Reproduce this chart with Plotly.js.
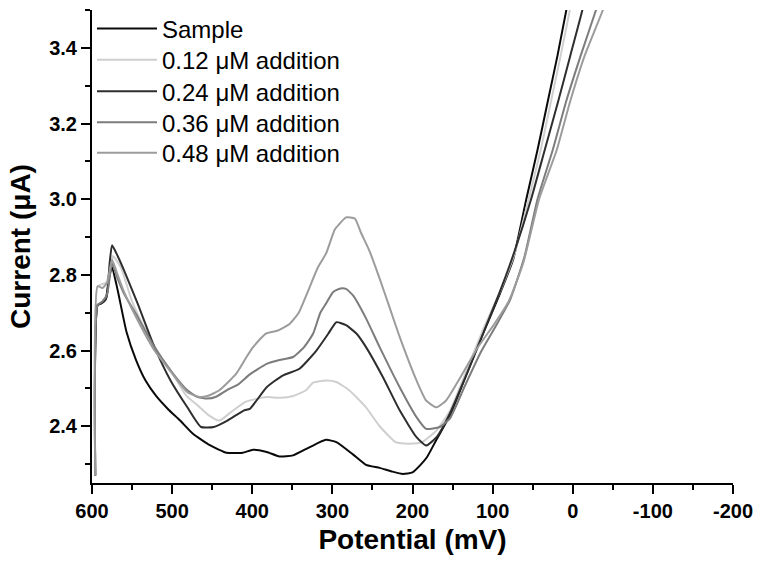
<!DOCTYPE html>
<html>
<head>
<meta charset="utf-8">
<script src="https://cdn.plot.ly/plotly-3.0.1.min.js"></script>
<style>html,body{margin:0;padding:0;background:#fff;}#chart{width:762px;height:564px;}</style>
</head>
<body>
<div id="chart"></div>
<script>
// Series names
const seriesNames = ["Sample", "0.12 \u03bcM addition", "0.24 \u03bcM addition", "0.36 \u03bcM addition", "0.48 \u03bcM addition"];

// X tick labels (hyphen minus as in the original)
const xTickVals = [600, 500, 400, 300, 200, 100, 0, -100, -200];
const xTickLabels = ["600", "500", "400", "300", "200", "100", "0", "-100", "-200"];

// Sample
const sampleX = [596,593,588,583,578,575,568,557,545,533,520,505,490,474,453,432,412,399,382,366,349,328,308,295,274,258,241,225,212,200,190,182,170,153,133,112,91,74.5,58,44,31,19,8,0];
const sampleY = [2.27,2.72,2.725,2.735,2.80,2.82,2.76,2.65,2.575,2.52,2.48,2.445,2.415,2.38,2.35,2.33,2.33,2.338,2.332,2.32,2.323,2.345,2.364,2.358,2.325,2.298,2.29,2.28,2.274,2.278,2.298,2.318,2.365,2.43,2.535,2.645,2.75,2.84,3.0,3.13,3.26,3.38,3.5,3.58];

// 0.12 uM
const add012X = [596,593,588,582,576,574,564,550,531,516,502,482,468,455,441,425,408,395,382,365,349,333,324,308,295,279,258,241,221,204,188,170,153,132,112,90,72,55,40,27,15,3.6,-5];
const add012Y = [2.27,2.77,2.775,2.78,2.83,2.85,2.82,2.73,2.645,2.59,2.548,2.48,2.455,2.43,2.415,2.44,2.465,2.472,2.477,2.475,2.48,2.495,2.515,2.521,2.517,2.495,2.45,2.40,2.358,2.354,2.358,2.389,2.442,2.55,2.655,2.76,2.86,3.0,3.13,3.26,3.38,3.5,3.58];

// 0.24 uM
const add024X = [596,593,588,582,578,575,568,560,543,522,502,481,464,448,431,410,403,382,362,341,320,305,295,283,270,258,237,216,195,183,170,153.5,132,112,92,73,52,35,18,3,-12,-20];
const add024Y = [2.27,2.72,2.725,2.74,2.83,2.878,2.85,2.812,2.724,2.609,2.521,2.45,2.398,2.398,2.415,2.442,2.446,2.503,2.534,2.552,2.6,2.645,2.675,2.667,2.645,2.609,2.53,2.442,2.371,2.349,2.371,2.433,2.54,2.645,2.75,2.86,3.0,3.13,3.26,3.38,3.5,3.58];

// 0.36 uM
const add036X = [596,593,587,581,575,568,560,543,522,502,481,468,456,445,432,418,403,382,366,349,335,324,315,308,299,290,283,274,258,241,216,195,183,166,153.5,135,115,96,78,60,44,25,8,-10,-29,-38];
const add036Y = [2.27,2.72,2.73,2.75,2.83,2.79,2.75,2.689,2.609,2.548,2.495,2.477,2.473,2.478,2.495,2.51,2.537,2.565,2.575,2.583,2.61,2.645,2.70,2.724,2.755,2.764,2.763,2.745,2.685,2.609,2.503,2.424,2.393,2.398,2.42,2.505,2.595,2.665,2.735,2.85,3.0,3.13,3.26,3.38,3.5,3.56];

// 0.48 uM
const add048X = [596,593,587,581,575,568,560,543,522,502,481,467,456,441,420,408,399,383,368,353,342,330,318,308,297,291,283,272,264,254,241,228,216,195,183,170,158,140,118,98,80,62,42,20,3,-15,-37.6,-45];
const add048Y = [2.27,2.77,2.765,2.78,2.84,2.80,2.755,2.68,2.6,2.545,2.49,2.478,2.48,2.495,2.539,2.58,2.609,2.645,2.653,2.671,2.70,2.759,2.82,2.856,2.92,2.935,2.952,2.949,2.91,2.865,2.79,2.71,2.636,2.521,2.468,2.45,2.468,2.53,2.61,2.67,2.73,2.83,3.0,3.13,3.26,3.38,3.5,3.55];

const xs = [sampleX, add012X, add024X, add036X, add048X];
const ys = [sampleY, add012Y, add024Y, add036Y, add048Y];
const colors = ["#0a0a0a", "#cfcfcf", "#2e2e2e", "#7c7c7c", "#9c9c9c"];

// legend row vertical positions (paper coords), one legend per row
const legendRowY = [0.9598, 0.8942, 0.8276, 0.762, 0.6975];
const legendIds = ["legend", "legend2", "legend3", "legend4", "legend5"];

const traces = seriesNames.map((n, i) => ({
  type: "scatter", mode: "lines", name: n,
  x: xs[i], y: ys[i],
  legend: legendIds[i],
  line: {color: colors[i], width: 2, shape: "spline", smoothing: 0.5}
}));

const tickFont = {family: "Liberation Sans, Arial, sans-serif", size: 20, color: "#000", weight: "bold"};
const titleFont = {family: "Liberation Sans, Arial, sans-serif", size: 28, color: "#000", weight: "bold"};

const layout = {
  width: 762, height: 564,
  margin: {l: 92, r: 29, t: 10, b: 81, pad: 0, autoexpand: false},
  paper_bgcolor: "#fff", plot_bgcolor: "#fff",
  showlegend: true,
  xaxis: {
    range: [600, -200], autorange: false,
    showgrid: false, zeroline: false,
    showline: true, linecolor: "#000", linewidth: 2,
    ticks: "outside", ticklen: 9, tickwidth: 2, tickcolor: "#000",
    tickmode: "array", tickvals: xTickVals, ticktext: xTickLabels,
    minor: {tickmode: "linear", tick0: 0, dtick: 50, ticks: "outside", ticklen: 5, tickwidth: 2, tickcolor: "#000", showgrid: false},
    tickfont: tickFont,
    title: {text: "Potential (mV)", font: titleFont, standoff: 8},
    automargin: false
  },
  yaxis: {
    range: [2.25, 3.5], autorange: false,
    showgrid: false, zeroline: false,
    showline: true, linecolor: "#000", linewidth: 2,
    ticks: "outside", ticklen: 9, tickwidth: 2, tickcolor: "#000",
    tick0: 0, dtick: 0.2, tickformat: ".1f",
    minor: {dtick: 0.1, ticks: "outside", ticklen: 5, tickwidth: 2, tickcolor: "#000", showgrid: false},
    tickfont: tickFont,
    title: {text: "Current (\u03bcA)", font: titleFont, standoff: 10},
    automargin: false
  }
};

legendIds.forEach((id, i) => {
  layout[id] = {
    x: 0, y: legendRowY[i], xanchor: "left", yanchor: "middle",
    bgcolor: "rgba(0,0,0,0)", borderwidth: 0,
    itemwidth: 60,
    font: {family: "Liberation Sans, Arial, sans-serif", size: 24, color: "#000"}
  };
});

Plotly.newPlot("chart", traces, layout, {displayModeBar: false, staticPlot: true});
</script>
</body>
</html>
